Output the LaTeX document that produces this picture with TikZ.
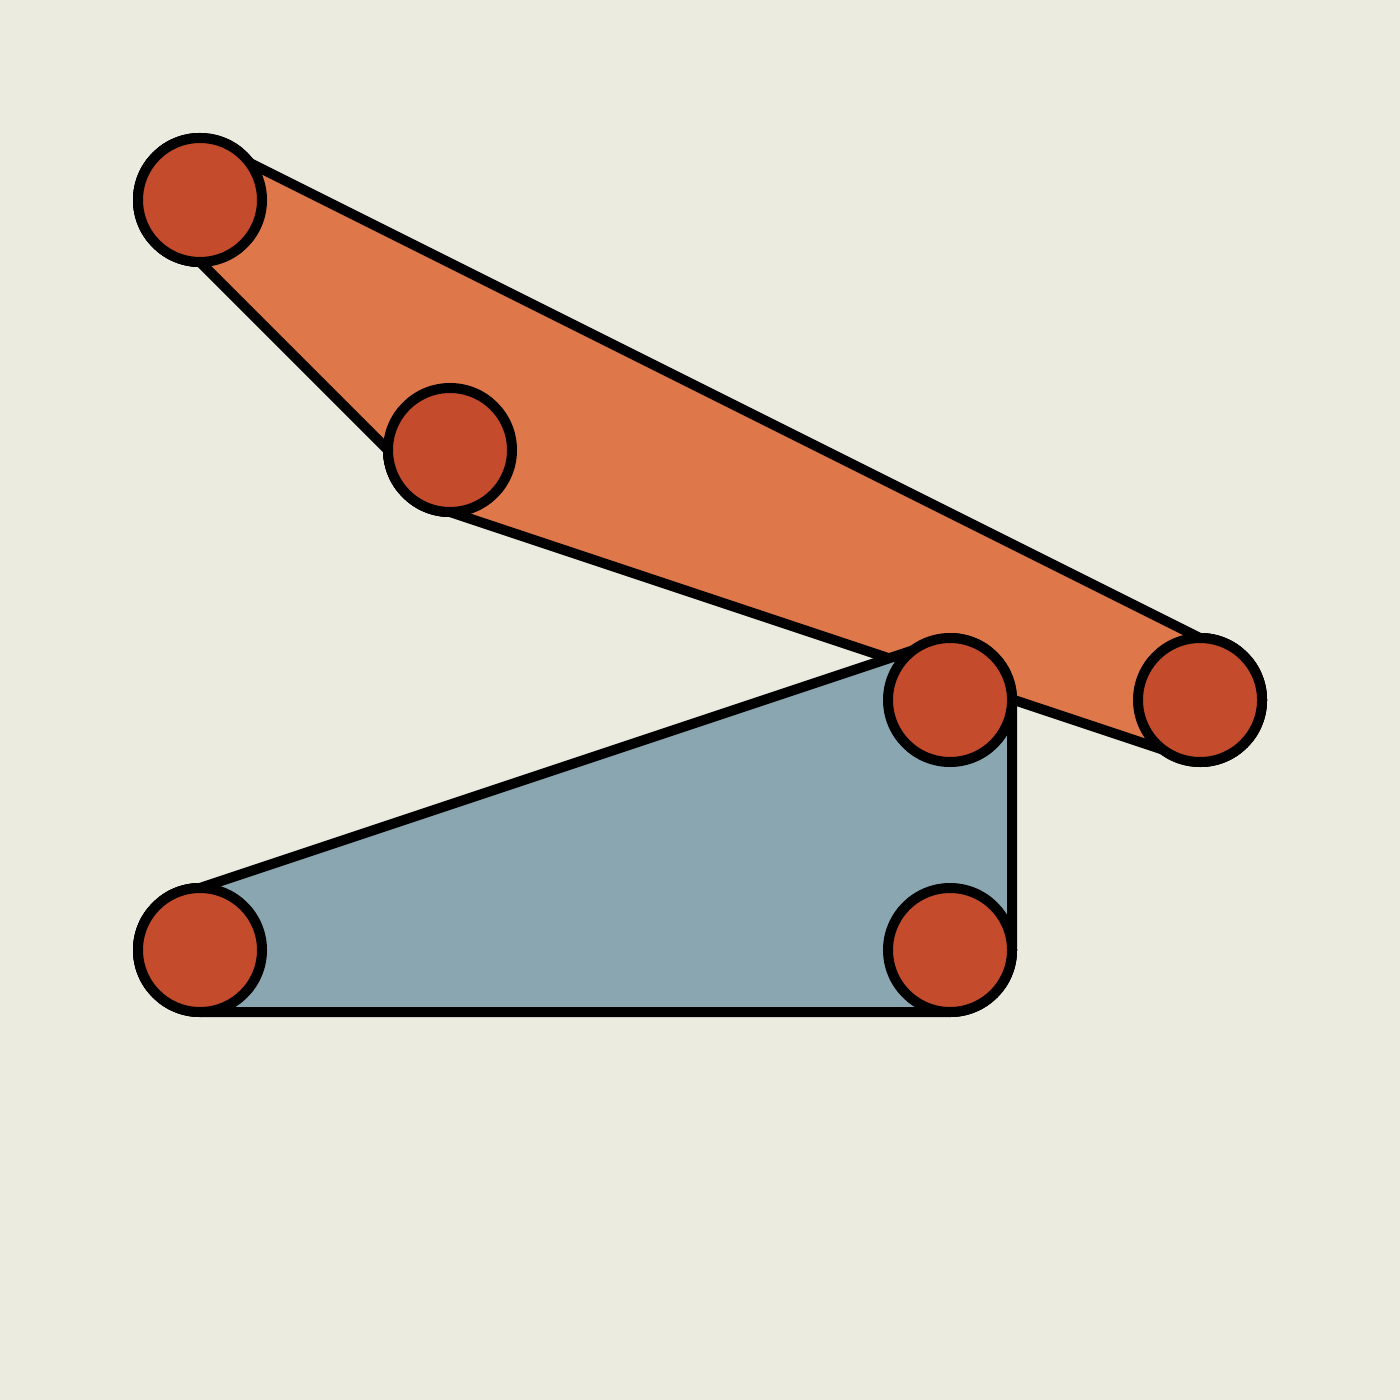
\documentclass[tikz,border=0pt]{standalone}
\usepackage{tikz}

\definecolor{paper}{RGB}{235,235,223}
\definecolor{linkorange}{RGB}{222,119,74}
\definecolor{linkblue}{RGB}{138,167,177}
\definecolor{jointred}{RGB}{196,76,44}

\tikzset{
  joint/.style={circle, draw=black, line width=5pt, fill=jointred, minimum size=62pt, inner sep=0pt, outer sep=0pt},
  linkbar/.style={draw=black, line width=5pt, line join=round}
}

\begin{document}
\begin{tikzpicture}[x=0.5pt,y=0.5pt,yscale=-1,xscale=1]
%set diagram: 1400 x 1400 canvas
\fill [paper] (0,0) rectangle (1400,1400);
\useasboundingbox (0,0) rectangle (1400,1400);

%Joints (placed first, drawn again on top)
\path (200,200) node [joint] (j1) {};
\path (450,450) node [joint] (j2) {};
\path (1200,700) node [joint] (j3) {};
\path (950,700) node [joint] (j4) {};
\path (950,950) node [joint] (j5) {};
\path (200,950) node [joint] (j6) {};

%Shape: upper link
\draw [linkbar, fill=linkorange] (j1.north) -- (j3.north) arc [start angle=-90, end angle=90, radius=62] -- (j2.south) arc [start angle=90, end angle=180, radius=62] -- (j1.south) arc [start angle=90, end angle=270, radius=62] -- cycle ;
%Shape: lower link
\draw [linkbar, fill=linkblue] (j6.north) -- (j4.north) arc [start angle=-90, end angle=0, radius=62] -- (j5.east) arc [start angle=0, end angle=90, radius=62] -- (j6.south) arc [start angle=90, end angle=270, radius=62] -- cycle ;

%Joints on top
\foreach \j in {j1,j2,j3,j4,j5,j6}
  \path (\j) node [joint] {};
\end{tikzpicture}
\end{document}
